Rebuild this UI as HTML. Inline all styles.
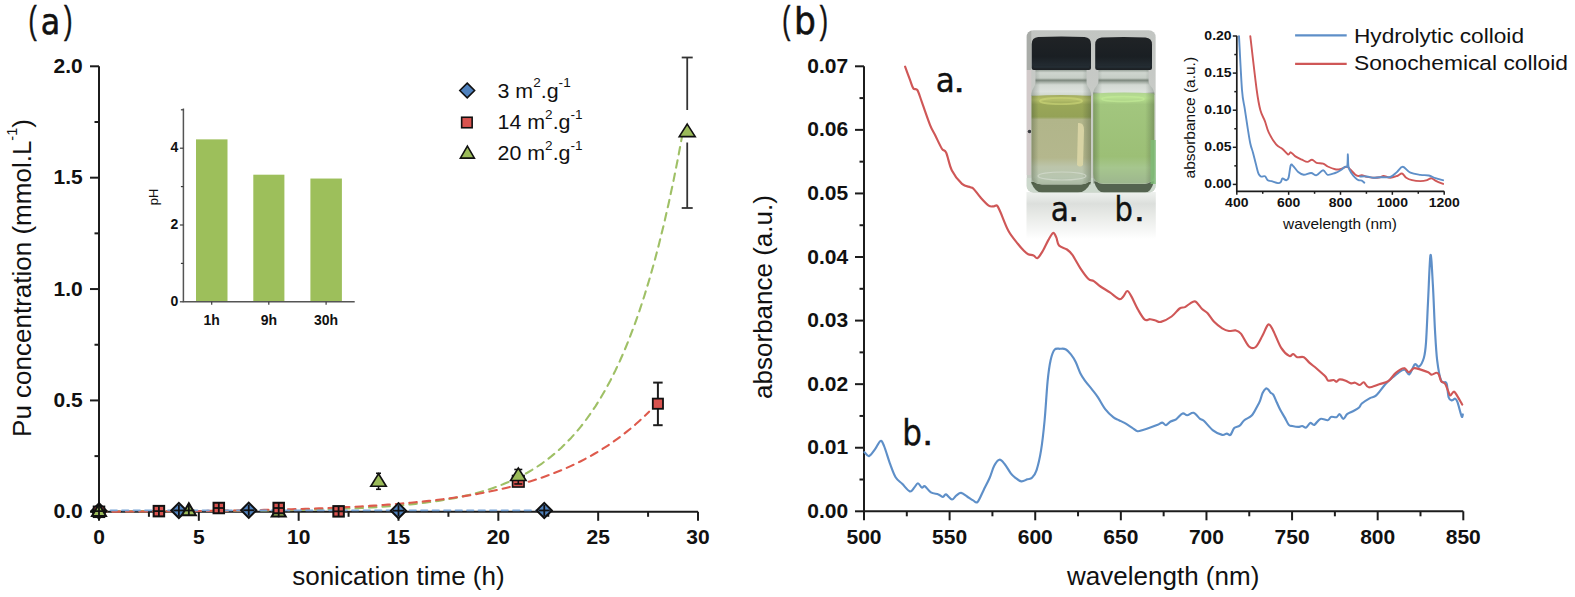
<!DOCTYPE html>
<html><head><meta charset="utf-8"><title>Figure</title>
<style>html,body{margin:0;padding:0;background:#fff;}svg{display:block;}</style>
</head><body>
<svg width="1575" height="597" viewBox="0 0 1575 597" font-family="'Liberation Sans', Arial, Helvetica, sans-serif">
<rect width="1575" height="597" fill="#ffffff"/>
<text transform="translate(28.42,33.4) scale(0.623,1)" font-size="39.5" fill="#111" stroke="#111" stroke-width="0.6">(</text>
<text transform="translate(40.8,34.2) scale(0.894,1)" font-size="35.5" font-family="'DejaVu Sans', sans-serif" fill="#111" stroke="#111" stroke-width="0.6">a</text>
<text transform="translate(64.05,33.4) scale(0.643,1)" font-size="39.5" fill="#111" stroke="#111" stroke-width="0.6">)</text>
<text transform="translate(782.25,33.4) scale(0.613,1)" font-size="39.5" fill="#111" stroke="#111" stroke-width="0.6">(</text>
<text transform="translate(794.1,34.4) scale(0.908,1)" font-size="38" font-family="'DejaVu Sans', sans-serif" fill="#111" stroke="#111" stroke-width="0.6">b</text>
<text transform="translate(819.75,33.4) scale(0.623,1)" font-size="39.5" fill="#111" stroke="#111" stroke-width="0.6">)</text>
<path d="M99.0,66.3 V511.8 H698.0" fill="none" stroke="#1c1c1c" stroke-width="2"/>
<line x1="90" y1="511.8" x2="99" y2="511.8" stroke="#1c1c1c" stroke-width="2" />
<text x="82.7" y="518.4" font-size="21" text-anchor="end" font-weight="bold" fill="#111" >0.0</text>
<line x1="90" y1="400.43" x2="99" y2="400.43" stroke="#1c1c1c" stroke-width="2" />
<text x="82.7" y="407.03" font-size="21" text-anchor="end" font-weight="bold" fill="#111" >0.5</text>
<line x1="90" y1="289.05" x2="99" y2="289.05" stroke="#1c1c1c" stroke-width="2" />
<text x="82.7" y="295.65" font-size="21" text-anchor="end" font-weight="bold" fill="#111" >1.0</text>
<line x1="90" y1="177.68" x2="99" y2="177.68" stroke="#1c1c1c" stroke-width="2" />
<text x="82.7" y="184.28" font-size="21" text-anchor="end" font-weight="bold" fill="#111" >1.5</text>
<line x1="90" y1="66.3" x2="99" y2="66.3" stroke="#1c1c1c" stroke-width="2" />
<text x="82.7" y="72.9" font-size="21" text-anchor="end" font-weight="bold" fill="#111" >2.0</text>
<line x1="94.5" y1="456.11" x2="99" y2="456.11" stroke="#1c1c1c" stroke-width="2" />
<line x1="94.5" y1="344.74" x2="99" y2="344.74" stroke="#1c1c1c" stroke-width="2" />
<line x1="94.5" y1="233.36" x2="99" y2="233.36" stroke="#1c1c1c" stroke-width="2" />
<line x1="94.5" y1="121.99" x2="99" y2="121.99" stroke="#1c1c1c" stroke-width="2" />
<line x1="99" y1="511.8" x2="99" y2="520.8" stroke="#1c1c1c" stroke-width="2" />
<text x="99" y="544" font-size="21" text-anchor="middle" font-weight="bold" fill="#111" >0</text>
<line x1="198.83" y1="511.8" x2="198.83" y2="520.8" stroke="#1c1c1c" stroke-width="2" />
<text x="198.83" y="544" font-size="21" text-anchor="middle" font-weight="bold" fill="#111" >5</text>
<line x1="298.67" y1="511.8" x2="298.67" y2="520.8" stroke="#1c1c1c" stroke-width="2" />
<text x="298.67" y="544" font-size="21" text-anchor="middle" font-weight="bold" fill="#111" >10</text>
<line x1="398.5" y1="511.8" x2="398.5" y2="520.8" stroke="#1c1c1c" stroke-width="2" />
<text x="398.5" y="544" font-size="21" text-anchor="middle" font-weight="bold" fill="#111" >15</text>
<line x1="498.33" y1="511.8" x2="498.33" y2="520.8" stroke="#1c1c1c" stroke-width="2" />
<text x="498.33" y="544" font-size="21" text-anchor="middle" font-weight="bold" fill="#111" >20</text>
<line x1="598.17" y1="511.8" x2="598.17" y2="520.8" stroke="#1c1c1c" stroke-width="2" />
<text x="598.17" y="544" font-size="21" text-anchor="middle" font-weight="bold" fill="#111" >25</text>
<line x1="698" y1="511.8" x2="698" y2="520.8" stroke="#1c1c1c" stroke-width="2" />
<text x="698" y="544" font-size="21" text-anchor="middle" font-weight="bold" fill="#111" >30</text>
<line x1="148.92" y1="511.8" x2="148.92" y2="516.8" stroke="#1c1c1c" stroke-width="2" />
<line x1="248.75" y1="511.8" x2="248.75" y2="516.8" stroke="#1c1c1c" stroke-width="2" />
<line x1="348.58" y1="511.8" x2="348.58" y2="516.8" stroke="#1c1c1c" stroke-width="2" />
<line x1="448.42" y1="511.8" x2="448.42" y2="516.8" stroke="#1c1c1c" stroke-width="2" />
<line x1="548.25" y1="511.8" x2="548.25" y2="516.8" stroke="#1c1c1c" stroke-width="2" />
<line x1="648.08" y1="511.8" x2="648.08" y2="516.8" stroke="#1c1c1c" stroke-width="2" />
<polyline points="99,511.23 103.87,511.22 108.73,511.22 113.6,511.21 118.47,511.21 123.33,511.2 128.2,511.19 133.07,511.18 137.94,511.17 142.8,511.16 147.67,511.15 152.54,511.14 157.4,511.13 162.27,511.12 167.14,511.11 172,511.09 176.87,511.08 181.74,511.06 186.6,511.04 191.47,511.02 196.34,511 201.2,510.98 206.07,510.96 210.94,510.93 215.81,510.9 220.67,510.87 225.54,510.84 230.41,510.81 235.27,510.77 240.14,510.73 245.01,510.69 249.87,510.65 254.74,510.6 259.61,510.55 264.47,510.49 269.34,510.43 274.21,510.36 279.07,510.3 283.94,510.22 288.81,510.14 293.68,510.05 298.54,509.96 303.41,509.86 308.28,509.76 313.14,509.64 318.01,509.52 322.88,509.39 327.74,509.25 332.61,509.09 337.48,508.93 342.34,508.75 347.21,508.56 352.08,508.36 356.94,508.14 361.81,507.91 366.68,507.66 371.55,507.39 376.41,507.1 381.28,506.79 386.15,506.45 391.01,506.09 395.88,505.71 400.75,505.29 405.61,504.85 410.48,504.37 415.35,503.86 420.21,503.3 425.08,502.71 429.95,502.07 434.81,501.39 439.68,500.66 444.55,499.87 449.42,499.02 454.28,498.11 459.15,497.13 464.02,496.08 468.88,494.95 473.75,493.74 478.62,492.44 483.48,491.04 488.35,489.54 493.22,487.92 498.08,486.19 502.95,484.33 507.82,482.33 512.68,480.18 517.55,477.88 522.42,475.4 527.28,472.74 532.15,469.88 537.02,466.81 541.89,463.51 546.75,459.97 551.62,456.16 556.49,452.07 561.35,447.68 566.22,442.97 571.09,437.9 575.95,432.46 580.82,426.61 585.69,420.33 590.55,413.59 595.42,406.35 600.29,398.57 605.15,390.21 610.02,381.23 614.89,371.59 619.76,361.23 624.62,350.1 629.49,338.15 634.36,325.32 639.22,311.53 644.09,296.72 648.96,280.81 653.82,263.73 658.69,245.37 663.56,225.66 668.42,204.48 673.29,181.73 678.16,157.3 683.02,131.06" fill="none" stroke="#9fc066" stroke-width="2.1" stroke-linejoin="round" stroke-linecap="round" stroke-dasharray="7.5,6" stroke-linecap="butt"/>
<polyline points="99,511.68 103.58,511.66 108.17,511.64 112.75,511.62 117.34,511.59 121.92,511.57 126.5,511.55 131.09,511.52 135.67,511.49 140.26,511.47 144.84,511.44 149.42,511.4 154.01,511.37 158.59,511.34 163.18,511.3 167.76,511.27 172.34,511.23 176.93,511.19 181.51,511.14 186.1,511.1 190.68,511.05 195.26,511 199.85,510.95 204.43,510.9 209.02,510.84 213.6,510.78 218.18,510.72 222.77,510.66 227.35,510.59 231.94,510.52 236.52,510.45 241.1,510.37 245.69,510.29 250.27,510.2 254.86,510.11 259.44,510.02 264.02,509.92 268.61,509.82 273.19,509.72 277.78,509.61 282.36,509.49 286.94,509.37 291.53,509.24 296.11,509.11 300.7,508.97 305.28,508.82 309.86,508.67 314.45,508.51 319.03,508.34 323.62,508.16 328.2,507.98 332.78,507.79 337.37,507.59 341.95,507.38 346.54,507.16 351.12,506.92 355.7,506.68 360.29,506.43 364.87,506.17 369.46,505.89 374.04,505.6 378.62,505.3 383.21,504.98 387.79,504.65 392.38,504.3 396.96,503.93 401.54,503.55 406.13,503.15 410.71,502.74 415.3,502.3 419.88,501.84 424.46,501.36 429.05,500.86 433.63,500.34 438.22,499.79 442.8,499.21 447.39,498.61 451.97,497.98 456.55,497.32 461.14,496.63 465.72,495.91 470.31,495.16 474.89,494.36 479.47,493.54 484.06,492.67 488.64,491.76 493.23,490.81 497.81,489.82 502.39,488.78 506.98,487.69 511.56,486.55 516.15,485.36 520.73,484.11 525.31,482.81 529.9,481.44 534.48,480.01 539.07,478.51 543.65,476.94 548.23,475.3 552.82,473.58 557.4,471.79 561.99,469.9 566.57,467.94 571.15,465.87 575.74,463.72 580.32,461.46 584.91,459.09 589.49,456.62 594.07,454.03 598.66,451.32 603.24,448.48 607.83,445.51 612.41,442.41 616.99,439.15 621.58,435.75 626.16,432.18 630.75,428.45 635.33,424.55 639.91,420.46 644.5,416.19 649.08,411.71" fill="none" stroke="#de5a4c" stroke-width="2.1" stroke-linejoin="round" stroke-linecap="round" stroke-dasharray="7.5,6" stroke-linecap="butt"/>
<polyline points="99,510.3 544.26,510.3" fill="none" stroke="#78a4d6" stroke-width="1.8" stroke-linejoin="round" stroke-linecap="round" stroke-dasharray="6.5,5" stroke-linecap="butt"/>
<text x="398.4" y="584.5" font-size="26" text-anchor="middle" font-weight="normal" fill="#111" >sonication time (h)</text>
<text transform="translate(31.3,278) rotate(-90)" font-size="26" text-anchor="middle" fill="#111">Pu concentration (mmol.L<tspan dy="-14" font-size="14.5">-1</tspan><tspan dy="14">)</tspan></text>
<rect x="196" y="139.37" width="31.5" height="162.43" fill="#9dbf5b"/>
<rect x="253.3" y="174.7" width="31.1" height="127.1" fill="#9dbf5b"/>
<rect x="310.4" y="178.54" width="31.5" height="123.26" fill="#9dbf5b"/>
<path d="M183.4,108.5 V301.8 H354.7" fill="none" stroke="#555" stroke-width="1.5"/>
<line x1="179.9" y1="301.8" x2="183.4" y2="301.8" stroke="#3c3c3c" stroke-width="1.2" />
<line x1="180.9" y1="263.4" x2="183.4" y2="263.4" stroke="#3c3c3c" stroke-width="1.2" />
<line x1="179.9" y1="225" x2="183.4" y2="225" stroke="#3c3c3c" stroke-width="1.2" />
<line x1="180.9" y1="186.6" x2="183.4" y2="186.6" stroke="#3c3c3c" stroke-width="1.2" />
<line x1="179.9" y1="148.2" x2="183.4" y2="148.2" stroke="#3c3c3c" stroke-width="1.2" />
<line x1="180.9" y1="109.8" x2="183.4" y2="109.8" stroke="#3c3c3c" stroke-width="1.2" />
<text x="178.4" y="306" font-size="14" text-anchor="end" font-weight="bold" fill="#111" >0</text>
<text x="178.4" y="229.2" font-size="14" text-anchor="end" font-weight="bold" fill="#111" >2</text>
<text x="178.4" y="152.4" font-size="14" text-anchor="end" font-weight="bold" fill="#111" >4</text>
<line x1="211.7" y1="301.8" x2="211.7" y2="304.8" stroke="#3c3c3c" stroke-width="1.2" />
<line x1="268.8" y1="301.8" x2="268.8" y2="304.8" stroke="#3c3c3c" stroke-width="1.2" />
<line x1="326.1" y1="301.8" x2="326.1" y2="304.8" stroke="#3c3c3c" stroke-width="1.2" />
<text x="211.7" y="325.1" font-size="14" text-anchor="middle" font-weight="bold" fill="#111" >1h</text>
<text x="268.8" y="325.1" font-size="14" text-anchor="middle" font-weight="bold" fill="#111" >9h</text>
<text x="326.1" y="325.1" font-size="14" text-anchor="middle" font-weight="bold" fill="#111" >30h</text>
<text transform="translate(157.5,197) rotate(-90)" font-size="13" text-anchor="middle" fill="#111">pH</text>
<path d="M467.2,83.1 L474.6,90.5 L467.2,97.9 L459.8,90.5 Z" fill="#4f81bd" stroke="#111" stroke-width="1.6" stroke-linejoin="miter"/>
<rect x="461.65" y="117.25" width="10.5" height="10.5" fill="#d9534f" stroke="#111" stroke-width="1.6"/>
<path d="M467.4,146.1 L474.4,158.1 L460.4,158.1 Z" fill="#9bbb59" stroke="#111" stroke-width="1.6" stroke-linejoin="miter"/>
<text transform="translate(497.5,97.6) scale(1.045,1)" font-size="20.5" fill="#111">3 m<tspan dy="-10.5" font-size="13">2</tspan><tspan dy="10.5">.g</tspan><tspan dy="-10.5" font-size="13">-1</tspan></text>
<text transform="translate(497.5,129.2) scale(1.045,1)" font-size="20.5" fill="#111">14 m<tspan dy="-10.5" font-size="13">2</tspan><tspan dy="10.5">.g</tspan><tspan dy="-10.5" font-size="13">-1</tspan></text>
<text transform="translate(497.5,160.4) scale(1.045,1)" font-size="20.5" fill="#111">20 m<tspan dy="-10.5" font-size="13">2</tspan><tspan dy="10.5">.g</tspan><tspan dy="-10.5" font-size="13">-1</tspan></text>
<path d="M99,503.31 L106.6,510.91 L99,518.51 L91.4,510.91 Z" fill="#4f81bd" stroke="#111" stroke-width="2.0" stroke-linejoin="miter"/>
<line x1="93.5" y1="510.91" x2="104.5" y2="510.91" stroke="#111" stroke-width="1.8" />
<line x1="99" y1="505.41" x2="99" y2="516.41" stroke="#111" stroke-width="1.8" />
<rect x="93.75" y="506.55" width="10.5" height="10.5" fill="#d9534f" stroke="#111" stroke-width="2.0"/>
<line x1="93.5" y1="511.8" x2="104.5" y2="511.8" stroke="#111" stroke-width="1.8" />
<line x1="99" y1="506.3" x2="99" y2="517.3" stroke="#111" stroke-width="1.8" />
<path d="M99,503.93 L106,515.93 L92,515.93 Z" fill="#9bbb59" stroke="#111" stroke-width="2.0" stroke-linejoin="miter"/>
<line x1="93.5" y1="511.13" x2="104.5" y2="511.13" stroke="#111" stroke-width="1.8" />
<line x1="99" y1="505.63" x2="99" y2="516.63" stroke="#111" stroke-width="1.8" />
<rect x="153.65" y="505.88" width="10.5" height="10.5" fill="#d9534f" stroke="#111" stroke-width="2.0"/>
<line x1="153.4" y1="511.13" x2="164.4" y2="511.13" stroke="#111" stroke-width="1.8" />
<line x1="158.9" y1="505.63" x2="158.9" y2="516.63" stroke="#111" stroke-width="1.8" />
<path d="M178.87,502.86 L186.47,510.46 L178.87,518.06 L171.27,510.46 Z" fill="#4f81bd" stroke="#111" stroke-width="2.0" stroke-linejoin="miter"/>
<line x1="173.37" y1="510.46" x2="184.37" y2="510.46" stroke="#111" stroke-width="1.8" />
<line x1="178.87" y1="504.96" x2="178.87" y2="515.96" stroke="#111" stroke-width="1.8" />
<path d="M188.85,503.26 L195.85,515.26 L181.85,515.26 Z" fill="#9bbb59" stroke="#111" stroke-width="2.0" stroke-linejoin="miter"/>
<line x1="183.35" y1="510.46" x2="194.35" y2="510.46" stroke="#111" stroke-width="1.8" />
<line x1="188.85" y1="504.96" x2="188.85" y2="515.96" stroke="#111" stroke-width="1.8" />
<rect x="213.55" y="502.76" width="10.5" height="10.5" fill="#d9534f" stroke="#111" stroke-width="2.0"/>
<line x1="213.3" y1="508.01" x2="224.3" y2="508.01" stroke="#111" stroke-width="1.8" />
<line x1="218.8" y1="502.51" x2="218.8" y2="513.51" stroke="#111" stroke-width="1.8" />
<path d="M248.75,502.64 L256.35,510.24 L248.75,517.84 L241.15,510.24 Z" fill="#4f81bd" stroke="#111" stroke-width="2.0" stroke-linejoin="miter"/>
<line x1="243.25" y1="510.24" x2="254.25" y2="510.24" stroke="#111" stroke-width="1.8" />
<line x1="248.75" y1="504.74" x2="248.75" y2="515.74" stroke="#111" stroke-width="1.8" />
<path d="M278.7,504.6 L285.7,516.6 L271.7,516.6 Z" fill="#9bbb59" stroke="#111" stroke-width="2.0" stroke-linejoin="miter"/>
<line x1="273.2" y1="511.8" x2="284.2" y2="511.8" stroke="#111" stroke-width="1.8" />
<line x1="278.7" y1="506.3" x2="278.7" y2="517.3" stroke="#111" stroke-width="1.8" />
<rect x="273.45" y="502.76" width="10.5" height="10.5" fill="#d9534f" stroke="#111" stroke-width="2.0"/>
<line x1="273.2" y1="508.01" x2="284.2" y2="508.01" stroke="#111" stroke-width="1.8" />
<line x1="278.7" y1="502.51" x2="278.7" y2="513.51" stroke="#111" stroke-width="1.8" />
<rect x="333.35" y="506.1" width="10.5" height="10.5" fill="#d9534f" stroke="#111" stroke-width="2.0"/>
<line x1="333.1" y1="511.35" x2="344.1" y2="511.35" stroke="#111" stroke-width="1.8" />
<line x1="338.6" y1="505.85" x2="338.6" y2="516.85" stroke="#111" stroke-width="1.8" />
<path d="M398.5,503.09 L406.1,510.69 L398.5,518.29 L390.9,510.69 Z" fill="#4f81bd" stroke="#111" stroke-width="2.0" stroke-linejoin="miter"/>
<line x1="393" y1="510.69" x2="404" y2="510.69" stroke="#111" stroke-width="1.8" />
<line x1="398.5" y1="505.19" x2="398.5" y2="516.19" stroke="#111" stroke-width="1.8" />
<path d="M544.26,502.86 L551.86,510.46 L544.26,518.06 L536.66,510.46 Z" fill="#4f81bd" stroke="#111" stroke-width="2.0" stroke-linejoin="miter"/>
<line x1="538.76" y1="510.46" x2="549.76" y2="510.46" stroke="#111" stroke-width="1.8" />
<line x1="544.26" y1="504.96" x2="544.26" y2="515.96" stroke="#111" stroke-width="1.8" />
<line x1="378.53" y1="473.28" x2="378.53" y2="489.28" stroke="#111" stroke-width="1.6" />
<line x1="376.03" y1="473.28" x2="381.03" y2="473.28" stroke="#111" stroke-width="1.6" />
<line x1="376.03" y1="489.28" x2="381.03" y2="489.28" stroke="#111" stroke-width="1.6" />
<path d="M378.53,473.78 L386.28,486.28 L370.78,486.28 Z" fill="#9bbb59" stroke="#111" stroke-width="1.6" stroke-linejoin="miter"/>
<rect x="512.55" y="475.53" width="11.5" height="11.5" fill="#d9534f" stroke="#111" stroke-width="1.6"/>
<line x1="518.3" y1="469.48" x2="518.3" y2="483.96" stroke="#111" stroke-width="1.6" />
<line x1="514.3" y1="469.48" x2="522.3" y2="469.48" stroke="#111" stroke-width="1.6" />
<line x1="514.3" y1="483.96" x2="522.3" y2="483.96" stroke="#111" stroke-width="1.6" />
<path d="M518.3,467.99 L526.05,480.49 L510.55,480.49 Z" fill="#9bbb59" stroke="#111" stroke-width="1.6" stroke-linejoin="miter"/>
<line x1="657.9" y1="382.6" x2="657.9" y2="425.2" stroke="#1e1e1e" stroke-width="2.0" />
<line x1="653.15" y1="382.6" x2="662.65" y2="382.6" stroke="#1e1e1e" stroke-width="2.0" />
<line x1="653.15" y1="425.2" x2="662.65" y2="425.2" stroke="#1e1e1e" stroke-width="2.0" />
<rect x="652.8" y="398.6" width="10.2" height="10.2" fill="#d9534f" stroke="#111" stroke-width="1.8"/>
<line x1="687.22" y1="57.5" x2="687.22" y2="110" stroke="#333" stroke-width="1.8"/>
<line x1="687.22" y1="142.5" x2="687.22" y2="208" stroke="#333" stroke-width="1.8"/>
<line x1="681.72" y1="57.5" x2="692.72" y2="57.5" stroke="#333" stroke-width="1.8" />
<line x1="681.72" y1="208" x2="692.72" y2="208" stroke="#333" stroke-width="1.8" />
<path d="M687.22,124.1 L695.22,136.6 L679.22,136.6 Z" fill="#9bbb59" stroke="#111" stroke-width="1.6" stroke-linejoin="miter"/>
<defs>
<clipPath id="phc"><rect x="1026.5" y="30.2" width="129.3" height="162.3" rx="7" ry="7"/></clipPath>
<linearGradient id="bg" x1="0" y1="0" x2="0" y2="1">
 <stop offset="0" stop-color="#c2c5c2"/><stop offset="0.4" stop-color="#c8cbc7"/><stop offset="1" stop-color="#c6ccc3"/></linearGradient>
<linearGradient id="liqA" gradientUnits="userSpaceOnUse" x1="0" y1="95.5" x2="0" y2="184.5">
 <stop offset="0" stop-color="#a5ae60"/><stop offset="0.05" stop-color="#b6c06a"/><stop offset="0.1" stop-color="#9aa758"/><stop offset="0.24" stop-color="#94a256"/><stop offset="0.27" stop-color="#b1b58a"/>
 <stop offset="0.7" stop-color="#b4b78d"/><stop offset="0.8" stop-color="#bcc5aa"/><stop offset="0.92" stop-color="#b8c6b0"/><stop offset="1" stop-color="#aab8a2"/></linearGradient>
<linearGradient id="liqB" gradientUnits="userSpaceOnUse" x1="0" y1="92.5" x2="0" y2="184">
 <stop offset="0" stop-color="#b0d490"/><stop offset="0.06" stop-color="#b8e090"/><stop offset="0.13" stop-color="#a2c67e"/><stop offset="0.7" stop-color="#9cbf76"/><stop offset="0.82" stop-color="#a6c68e"/><stop offset="1" stop-color="#9db68e"/></linearGradient>
<linearGradient id="edgeH" x1="0" y1="0" x2="1" y2="0">
 <stop offset="0" stop-color="#3c4a30" stop-opacity="0.35"/><stop offset="0.12" stop-color="#3c4a30" stop-opacity="0"/><stop offset="0.85" stop-color="#3c4a30" stop-opacity="0"/><stop offset="1" stop-color="#3c4a30" stop-opacity="0.35"/></linearGradient>
<linearGradient id="neck" gradientUnits="userSpaceOnUse" x1="0" y1="70" x2="0" y2="97">
 <stop offset="0" stop-color="#9aa39b"/><stop offset="0.1" stop-color="#cfd5cf"/><stop offset="0.3" stop-color="#c6cdc6"/><stop offset="0.38" stop-color="#7d887e"/><stop offset="0.46" stop-color="#a9b2a9"/>
 <stop offset="0.55" stop-color="#d3d9d3"/><stop offset="0.8" stop-color="#dde2dd"/><stop offset="1" stop-color="#c9d2c4"/></linearGradient>
<linearGradient id="neckH" x1="0" y1="0" x2="1" y2="0">
 <stop offset="0" stop-color="#66706a" stop-opacity="0.45"/><stop offset="0.15" stop-color="#66706a" stop-opacity="0"/><stop offset="0.85" stop-color="#66706a" stop-opacity="0"/><stop offset="1" stop-color="#66706a" stop-opacity="0.45"/></linearGradient>
<linearGradient id="cap" x1="0" y1="0" x2="0" y2="1">
 <stop offset="0" stop-color="#202326"/><stop offset="0.6" stop-color="#1a1f23"/><stop offset="0.85" stop-color="#222a30"/><stop offset="1" stop-color="#1c2024"/></linearGradient>
<linearGradient id="refl" x1="0" y1="0" x2="0" y2="1">
 <stop offset="0" stop-color="#eef1ee"/><stop offset="0.12" stop-color="#e6e9e6"/><stop offset="0.25" stop-color="#dcdfdc"/><stop offset="0.5" stop-color="#e8eae7"/><stop offset="0.8" stop-color="#f5f6f5"/><stop offset="1" stop-color="#ffffff"/></linearGradient>
</defs>
<rect x="1026.5" y="192" width="129.3" height="47" fill="url(#refl)"/>
<g clip-path="url(#phc)">
<rect x="1026.5" y="30" width="129.3" height="163" fill="url(#bg)"/>
<rect x="1026.5" y="30" width="4.8" height="40" fill="#a9aca8"/>
<rect x="1026.5" y="70" width="4.8" height="105" fill="#d2caca"/>
<circle cx="1029.5" cy="131.5" r="1.8" fill="#3a3c40"/>
<rect x="1026.5" y="178" width="129.3" height="15" fill="#ccd8cc"/>
<path d="M1031,182 H1091 Q1086,192.6 1078,192.6 H1042 Q1035,192.6 1031,182 Z" fill="#56654f"/>
<path d="M1094,181.5 H1154 Q1151,192.6 1145,192.6 H1104 Q1097,192.6 1094,181.5 Z" fill="#546350"/>
<path d="M1035.5,70 H1086.5 V82 C1086.5,87 1091.3,88 1091.3,96 V176 Q1091.3,184 1081,184.5 H1042 Q1031.3,184 1031.3,176 V96 C1031.3,88 1035.5,87 1035.5,82 Z" fill="url(#neck)"/>
<path d="M1035.5,70 H1086.5 V82 C1086.5,87 1091.3,88 1091.3,96 H1031.3 C1031.3,88 1035.5,87 1035.5,82 Z" fill="url(#neckH)"/>
<path d="M1031.6,96 Q1061,94 1091,96 V176 Q1091,184 1081,184.3 H1042 Q1031.6,184 1031.6,176 Z" fill="url(#liqA)"/>
<rect x="1031.5" y="95.5" width="59.5" height="89" fill="url(#edgeH)"/>
<ellipse cx="1061" cy="101" rx="21" ry="3.2" fill="none" stroke="#cfd97a" stroke-width="1.8" opacity="0.6"/>
<path d="M1078,123 Q1084,122 1084,130 L1083,165 Q1080,168 1077,165 Z" fill="#dcd6a6" opacity="0.9"/>
<ellipse cx="1062" cy="176" rx="24" ry="4" fill="none" stroke="#d5ddd0" stroke-width="1.2" opacity="0.7"/>
<path d="M1031.7,44 Q1031.7,37.5 1038.2,37 Q1061.35,36 1084.5,37 Q1091,37.5 1091,44 V68 Q1091,70 1089,70 H1033.7 Q1031.7,70 1031.7,68 Z" fill="url(#cap)"/><path d="M1033.7,67 H1089" stroke="#2c3a44" stroke-width="1.2" opacity="0.6"/>
<path d="M1098.5,69 H1148.5 V81 C1148.5,86 1154.5,87 1154.5,95 V174 Q1154.5,183.5 1143,184 H1104 Q1093,183.5 1093,174 V95 C1093,87 1098.5,86 1098.5,81 Z" fill="url(#neck)"/>
<path d="M1098.5,69 H1148.5 V81 C1148.5,86 1154.5,87 1154.5,95 H1093 C1093,87 1098.5,86 1098.5,81 Z" fill="url(#neckH)"/>
<path d="M1093.2,93.5 Q1123.7,91.5 1154.3,93.5 V174 Q1154.3,183.3 1143,183.8 H1104 Q1093.2,183.3 1093.2,174 Z" fill="url(#liqB)"/>
<rect x="1093.2" y="92.5" width="61.1" height="91" fill="url(#edgeH)"/>
<ellipse cx="1123" cy="99" rx="21" ry="2.5" fill="none" stroke="#c4ec9a" stroke-width="1.6" opacity="0.6"/>
<rect x="1150.5" y="140" width="5.5" height="44" fill="#7fbf78" opacity="0.8"/>
<path d="M1095.2,44.5 Q1095.2,38 1101.7,37.5 Q1123.6,36.5 1145.5,37.5 Q1152,38 1152,44.5 V68 Q1152,70 1150,70 H1097.2 Q1095.2,70 1095.2,68 Z" fill="url(#cap)"/><path d="M1097.2,67 H1150" stroke="#2c3a44" stroke-width="1.2" opacity="0.6"/>
</g>
<text transform="translate(1050.81,220.6) scale(0.881,1)" font-size="33.8" font-family="'DejaVu Sans', sans-serif" fill="#111" stroke="#111" stroke-width="0.4">a</text>
<text transform="translate(1068.34,220.6) scale(1.083,1)" font-size="36" fill="#111" stroke="#111" stroke-width="0.5">.</text>
<text transform="translate(1114.39,220.6) scale(0.852,1)" font-size="34" font-family="'DejaVu Sans', sans-serif" fill="#111" stroke="#111" stroke-width="0.4">b</text>
<text transform="translate(1134.04,220.6) scale(1.083,1)" font-size="36" fill="#111" stroke="#111" stroke-width="0.5">.</text>
<path d="M864.0,66.3 V511.3 H1463.3" fill="none" stroke="#1c1c1c" stroke-width="2"/>
<line x1="855" y1="511.3" x2="864" y2="511.3" stroke="#1c1c1c" stroke-width="2" />
<text x="848.2" y="517.9" font-size="21" text-anchor="end" font-weight="bold" fill="#111" >0.00</text>
<line x1="855" y1="447.73" x2="864" y2="447.73" stroke="#1c1c1c" stroke-width="2" />
<text x="848.2" y="454.33" font-size="21" text-anchor="end" font-weight="bold" fill="#111" >0.01</text>
<line x1="855" y1="384.16" x2="864" y2="384.16" stroke="#1c1c1c" stroke-width="2" />
<text x="848.2" y="390.76" font-size="21" text-anchor="end" font-weight="bold" fill="#111" >0.02</text>
<line x1="855" y1="320.59" x2="864" y2="320.59" stroke="#1c1c1c" stroke-width="2" />
<text x="848.2" y="327.19" font-size="21" text-anchor="end" font-weight="bold" fill="#111" >0.03</text>
<line x1="855" y1="257.01" x2="864" y2="257.01" stroke="#1c1c1c" stroke-width="2" />
<text x="848.2" y="263.61" font-size="21" text-anchor="end" font-weight="bold" fill="#111" >0.04</text>
<line x1="855" y1="193.44" x2="864" y2="193.44" stroke="#1c1c1c" stroke-width="2" />
<text x="848.2" y="200.04" font-size="21" text-anchor="end" font-weight="bold" fill="#111" >0.05</text>
<line x1="855" y1="129.87" x2="864" y2="129.87" stroke="#1c1c1c" stroke-width="2" />
<text x="848.2" y="136.47" font-size="21" text-anchor="end" font-weight="bold" fill="#111" >0.06</text>
<line x1="855" y1="66.3" x2="864" y2="66.3" stroke="#1c1c1c" stroke-width="2" />
<text x="848.2" y="72.9" font-size="21" text-anchor="end" font-weight="bold" fill="#111" >0.07</text>
<line x1="859.5" y1="479.51" x2="864" y2="479.51" stroke="#1c1c1c" stroke-width="2" />
<line x1="859.5" y1="415.94" x2="864" y2="415.94" stroke="#1c1c1c" stroke-width="2" />
<line x1="859.5" y1="352.37" x2="864" y2="352.37" stroke="#1c1c1c" stroke-width="2" />
<line x1="859.5" y1="288.8" x2="864" y2="288.8" stroke="#1c1c1c" stroke-width="2" />
<line x1="859.5" y1="225.23" x2="864" y2="225.23" stroke="#1c1c1c" stroke-width="2" />
<line x1="859.5" y1="161.66" x2="864" y2="161.66" stroke="#1c1c1c" stroke-width="2" />
<line x1="859.5" y1="98.09" x2="864" y2="98.09" stroke="#1c1c1c" stroke-width="2" />
<line x1="864" y1="511.3" x2="864" y2="520.3" stroke="#1c1c1c" stroke-width="2" />
<text x="864" y="543.7" font-size="21" text-anchor="middle" font-weight="bold" fill="#111" >500</text>
<line x1="949.61" y1="511.3" x2="949.61" y2="520.3" stroke="#1c1c1c" stroke-width="2" />
<text x="949.61" y="543.7" font-size="21" text-anchor="middle" font-weight="bold" fill="#111" >550</text>
<line x1="1035.23" y1="511.3" x2="1035.23" y2="520.3" stroke="#1c1c1c" stroke-width="2" />
<text x="1035.23" y="543.7" font-size="21" text-anchor="middle" font-weight="bold" fill="#111" >600</text>
<line x1="1120.84" y1="511.3" x2="1120.84" y2="520.3" stroke="#1c1c1c" stroke-width="2" />
<text x="1120.84" y="543.7" font-size="21" text-anchor="middle" font-weight="bold" fill="#111" >650</text>
<line x1="1206.46" y1="511.3" x2="1206.46" y2="520.3" stroke="#1c1c1c" stroke-width="2" />
<text x="1206.46" y="543.7" font-size="21" text-anchor="middle" font-weight="bold" fill="#111" >700</text>
<line x1="1292.07" y1="511.3" x2="1292.07" y2="520.3" stroke="#1c1c1c" stroke-width="2" />
<text x="1292.07" y="543.7" font-size="21" text-anchor="middle" font-weight="bold" fill="#111" >750</text>
<line x1="1377.69" y1="511.3" x2="1377.69" y2="520.3" stroke="#1c1c1c" stroke-width="2" />
<text x="1377.69" y="543.7" font-size="21" text-anchor="middle" font-weight="bold" fill="#111" >800</text>
<line x1="1463.3" y1="511.3" x2="1463.3" y2="520.3" stroke="#1c1c1c" stroke-width="2" />
<text x="1463.3" y="543.7" font-size="21" text-anchor="middle" font-weight="bold" fill="#111" >850</text>
<line x1="906.81" y1="511.3" x2="906.81" y2="516.3" stroke="#1c1c1c" stroke-width="2" />
<line x1="992.42" y1="511.3" x2="992.42" y2="516.3" stroke="#1c1c1c" stroke-width="2" />
<line x1="1078.04" y1="511.3" x2="1078.04" y2="516.3" stroke="#1c1c1c" stroke-width="2" />
<line x1="1163.65" y1="511.3" x2="1163.65" y2="516.3" stroke="#1c1c1c" stroke-width="2" />
<line x1="1249.26" y1="511.3" x2="1249.26" y2="516.3" stroke="#1c1c1c" stroke-width="2" />
<line x1="1334.88" y1="511.3" x2="1334.88" y2="516.3" stroke="#1c1c1c" stroke-width="2" />
<line x1="1420.49" y1="511.3" x2="1420.49" y2="516.3" stroke="#1c1c1c" stroke-width="2" />
<text x="1163.2" y="584.5" font-size="26" text-anchor="middle" font-weight="normal" fill="#111" >wavelength (nm)</text>
<text transform="translate(771.6,297) rotate(-90)" font-size="26" text-anchor="middle" fill="#111">absorbance (a.u.)</text>
<path d="M864.5,452.2 C865.25,452.85 867.23,456.6 869,456.1 C870.77,455.6 873.18,451.72 875.1,449.2 C877.02,446.68 879,441.52 880.5,441 C882,440.48 882.48,442.23 884.1,446.1 C885.72,449.97 888.28,459.02 890.2,464.2 C892.12,469.38 893.6,473.93 895.6,477.2 C897.6,480.47 899.83,481.43 902.2,483.8 C904.57,486.17 907.78,490.78 909.8,491.4 C911.82,492.02 912.95,488.87 914.3,487.5 C915.65,486.13 916.65,483.2 917.9,483.2 C919.15,483.2 920.63,486.98 921.8,487.5 C922.97,488.02 923.38,485.5 924.9,486.3 C926.42,487.1 928.65,490.95 930.9,492.3 C933.15,493.65 936.38,493.65 938.4,494.4 C940.42,495.15 941.73,496.8 943,496.8 C944.27,496.8 944.5,493.95 946,494.4 C947.5,494.85 950.25,499.35 952,499.5 C953.75,499.65 954.98,496.4 956.5,495.3 C958.02,494.2 959.33,492.7 961.1,492.9 C962.87,493.1 965.1,495.25 967.1,496.5 C969.1,497.75 971.35,499.5 973.1,500.4 C974.85,501.3 975.83,503.65 977.6,501.9 C979.37,500.15 981.68,493.92 983.7,489.9 C985.72,485.88 987.95,481.83 989.7,477.8 C991.45,473.77 992.58,468.72 994.2,465.7 C995.82,462.68 997.63,459.95 999.4,459.7 C1001.17,459.45 1002.9,461.93 1004.8,464.2 C1006.7,466.47 1009.03,471.03 1010.8,473.3 C1012.57,475.57 1013.63,476.45 1015.4,477.8 C1017.17,479.15 1019.4,481.15 1021.4,481.4 C1023.4,481.65 1025.63,479.9 1027.4,479.3 C1029.17,478.7 1030.48,479.3 1032,477.8 C1033.52,476.3 1035,474.82 1036.5,470.3 C1038,465.78 1039.65,459 1041,450.7 C1042.35,442.4 1043.5,432.07 1044.6,420.5 C1045.7,408.93 1046.6,391.35 1047.6,381.3 C1048.6,371.25 1049.43,365.48 1050.6,360.2 C1051.77,354.92 1053.03,351.5 1054.6,349.6 C1056.17,347.7 1058.18,348.87 1060,348.8 C1061.82,348.73 1063.65,348.22 1065.5,349.2 C1067.35,350.18 1069.4,352.55 1071.1,354.7 C1072.8,356.85 1074.17,359.02 1075.7,362.1 C1077.23,365.18 1078.77,370.12 1080.3,373.2 C1081.83,376.28 1082.9,377.83 1084.9,380.6 C1086.9,383.37 1090.15,387.05 1092.3,389.8 C1094.45,392.55 1095.65,393.88 1097.8,397.1 C1099.95,400.32 1102.58,405.72 1105.2,409.1 C1107.82,412.48 1111.2,415.55 1113.5,417.4 C1115.8,419.25 1117.17,419.28 1119,420.2 C1120.83,421.12 1122.35,421.67 1124.5,422.9 C1126.65,424.13 1129.75,426.22 1131.9,427.6 C1134.05,428.98 1135.57,430.8 1137.4,431.2 C1139.23,431.6 1140.75,430.6 1142.9,430 C1145.05,429.4 1147.83,428.47 1150.3,427.6 C1152.77,426.73 1155.7,425.63 1157.7,424.8 C1159.7,423.97 1160.92,422.53 1162.3,422.6 C1163.68,422.67 1164.62,425.38 1166,425.2 C1167.38,425.02 1168.92,422.48 1170.6,421.5 C1172.28,420.52 1174.1,420.65 1176.1,419.3 C1178.1,417.95 1180.75,414.08 1182.6,413.4 C1184.45,412.72 1185.37,415.3 1187.2,415.2 C1189.03,415.1 1191.45,412.18 1193.6,412.8 C1195.75,413.42 1198.4,417.58 1200.1,418.9 C1201.8,420.22 1201.65,418.8 1203.8,420.7 C1205.95,422.6 1209.93,427.93 1213,430.3 C1216.07,432.67 1219.9,434.35 1222.2,434.9 C1224.5,435.45 1225.42,433.6 1226.8,433.6 C1228.18,433.6 1229.27,435.82 1230.5,434.9 C1231.73,433.98 1232.67,429.63 1234.2,428.1 C1235.73,426.57 1238.02,427.02 1239.7,425.7 C1241.38,424.38 1242.3,421.88 1244.3,420.2 C1246.3,418.52 1249.55,417.9 1251.7,415.6 C1253.85,413.3 1255.82,408.87 1257.2,406.4 C1258.58,403.93 1259.08,403.07 1260,400.8 C1260.92,398.53 1261.7,394.85 1262.7,392.8 C1263.7,390.75 1265,388.95 1266,388.5 C1267,388.05 1267.92,389.38 1268.7,390.1 C1269.48,390.82 1269.92,392.02 1270.7,392.8 C1271.48,393.58 1272.4,393.23 1273.4,394.8 C1274.4,396.37 1275.58,399.75 1276.7,402.2 C1277.82,404.65 1278.75,406.93 1280.1,409.5 C1281.45,412.07 1283.35,415.03 1284.8,417.6 C1286.25,420.17 1287.57,423.5 1288.8,424.9 C1290.03,426.3 1290.63,425.67 1292.2,426 C1293.77,426.33 1296.53,426.9 1298.2,426.9 C1299.87,426.9 1300.87,425.88 1302.2,426 C1303.53,426.12 1304.87,428.12 1306.2,427.6 C1307.53,427.08 1308.85,423.35 1310.2,422.9 C1311.55,422.45 1312.62,425.57 1314.3,424.9 C1315.98,424.23 1318.07,419.68 1320.3,418.9 C1322.53,418.12 1325.92,420.53 1327.7,420.2 C1329.48,419.87 1329.55,417.4 1331,416.9 C1332.45,416.4 1334.95,417.65 1336.4,417.2 C1337.85,416.75 1338.55,413.92 1339.7,414.2 C1340.85,414.48 1342.07,418.9 1343.3,418.9 C1344.53,418.9 1345.58,415.43 1347.1,414.2 C1348.62,412.97 1350.4,412.62 1352.4,411.5 C1354.4,410.38 1357.53,408.83 1359.1,407.5 C1360.67,406.17 1359.98,405.07 1361.8,403.5 C1363.62,401.93 1367.6,399.45 1370,398.1 C1372.4,396.75 1373.65,397.72 1376.2,395.4 C1378.75,393.08 1382.53,387.22 1385.3,384.2 C1388.07,381.18 1390.3,379.45 1392.8,377.3 C1395.3,375.15 1398.28,372.55 1400.3,371.3 C1402.32,370.05 1403.38,369.3 1404.9,369.8 C1406.42,370.3 1407.75,375.22 1409.4,374.3 C1411.05,373.38 1413.2,365.57 1414.8,364.3 C1416.4,363.03 1417.48,367.8 1419,366.7 C1420.52,365.6 1422.73,361.72 1423.9,357.7 C1425.07,353.68 1425.3,352.17 1426,342.6 C1426.7,333.03 1427.35,314.88 1428.1,300.3 C1428.85,285.72 1429.7,257.6 1430.5,255.1 C1431.3,252.6 1432.15,272.73 1432.9,285.3 C1433.65,297.87 1434.28,317.93 1435,330.5 C1435.72,343.07 1436.18,352.37 1437.2,360.7 C1438.22,369.03 1439.67,376.9 1441.1,380.5 C1442.53,384.1 1444.82,381.52 1445.8,382.3 C1446.78,383.08 1446.52,382.67 1447,385.2 C1447.48,387.73 1447.93,394.97 1448.7,397.5 C1449.47,400.03 1450.52,400.2 1451.6,400.4 C1452.68,400.6 1454.22,398.4 1455.2,398.7 C1456.18,399 1456.43,399.27 1457.5,402.2 C1458.57,405.13 1460.72,414.25 1461.6,416.3 C1462.48,418.35 1462.6,414.8 1462.8,414.5" fill="none" stroke="#5e8fc8" stroke-width="2.15" stroke-linejoin="round" stroke-linecap="round" />
<path d="M905.1,66.7 C905.93,68.93 908.72,76.47 910.1,80.1 C911.48,83.73 912.18,86.83 913.4,88.5 C914.62,90.17 916,87.87 917.4,90.1 C918.8,92.33 919.67,96.03 921.8,101.9 C923.93,107.77 927.97,119.73 930.2,125.3 C932.43,130.87 933.25,131.4 935.2,135.3 C937.15,139.2 940.07,145.8 941.9,148.7 C943.73,151.6 944.53,149.07 946.2,152.7 C947.87,156.33 949.27,165.3 951.9,170.5 C954.53,175.7 958.93,181.12 962,183.9 C965.07,186.68 968.35,186.37 970.3,187.2 C972.25,188.03 972.02,187.22 973.7,188.9 C975.38,190.58 977.9,194.52 980.4,197.3 C982.9,200.08 986.47,204.1 988.7,205.6 C990.93,207.1 992.4,206.3 993.8,206.3 C995.2,206.3 995.98,204.6 997.1,205.6 C998.22,206.6 998.6,208.07 1000.5,212.3 C1002.4,216.53 1005.58,225.72 1008.5,231 C1011.42,236.28 1015.43,240.7 1018,244 C1020.57,247.3 1022.2,249.08 1023.9,250.8 C1025.6,252.52 1026.6,253.53 1028.2,254.3 C1029.8,255.07 1031.95,254.77 1033.5,255.4 C1035.05,256.03 1035.93,258.87 1037.5,258.1 C1039.07,257.33 1041.1,253.8 1042.9,250.8 C1044.7,247.8 1046.6,243.08 1048.3,240.1 C1050,237.12 1051.77,233.35 1053.1,232.9 C1054.43,232.45 1055.32,235.3 1056.3,237.4 C1057.28,239.5 1057.22,243.48 1059,245.5 C1060.78,247.52 1064.77,247.93 1067,249.5 C1069.23,251.07 1070.17,251.77 1072.4,254.9 C1074.63,258.03 1077.72,264.28 1080.4,268.3 C1083.08,272.32 1086.27,276.87 1088.5,279 C1090.73,281.13 1091.8,279.85 1093.8,281.1 C1095.8,282.35 1097.82,284.62 1100.5,286.5 C1103.18,288.38 1106.77,290.3 1109.9,292.4 C1113.03,294.5 1117.07,298.43 1119.3,299.1 C1121.53,299.77 1121.97,297.75 1123.3,296.4 C1124.63,295.05 1125.95,291 1127.3,291 C1128.65,291 1129.6,293.27 1131.4,296.4 C1133.2,299.53 1135.87,305.92 1138.1,309.8 C1140.33,313.68 1142.8,318.13 1144.8,319.7 C1146.8,321.27 1148.32,319.07 1150.1,319.2 C1151.88,319.33 1153.7,320.05 1155.5,320.5 C1157.3,320.95 1158.22,322.57 1160.9,321.9 C1163.58,321.23 1168.48,318.73 1171.6,316.5 C1174.72,314.27 1177.37,310.07 1179.6,308.5 C1181.83,306.93 1183.27,307.92 1185,307.1 C1186.73,306.28 1188.27,304.53 1190,303.6 C1191.73,302.67 1193.38,300.6 1195.4,301.5 C1197.42,302.4 1200.1,307.08 1202.1,309 C1204.1,310.92 1205.4,310.87 1207.4,313 C1209.4,315.13 1211.63,319.25 1214.1,321.8 C1216.57,324.35 1219.73,326.77 1222.2,328.3 C1224.67,329.83 1226.67,330.65 1228.9,331 C1231.13,331.35 1233.6,329.97 1235.6,330.4 C1237.6,330.83 1238.67,330.92 1240.9,333.6 C1243.13,336.28 1246.53,344.27 1249,346.5 C1251.47,348.73 1253.47,348.78 1255.7,347 C1257.93,345.22 1260.3,339.55 1262.4,335.8 C1264.5,332.05 1266.52,325.4 1268.3,324.5 C1270.08,323.6 1270.95,326.5 1273.1,330.4 C1275.25,334.3 1278.52,343.65 1281.2,347.9 C1283.88,352.15 1287.2,354.88 1289.2,355.9 C1291.2,356.92 1291.87,353.78 1293.2,354 C1294.53,354.22 1295.42,356.67 1297.2,357.2 C1298.98,357.73 1301.88,356.3 1303.9,357.2 C1305.92,358.1 1307.28,360.8 1309.3,362.6 C1311.32,364.4 1313.98,366.3 1316,368 C1318.02,369.7 1319.8,371.35 1321.4,372.8 C1323,374.25 1324.45,375.38 1325.6,376.7 C1326.75,378.02 1326.95,380.15 1328.3,380.7 C1329.65,381.25 1332.35,379.82 1333.7,380 C1335.05,380.18 1335.4,381.9 1336.4,381.8 C1337.4,381.7 1338.15,379.58 1339.7,379.4 C1341.25,379.22 1343.8,380.03 1345.7,380.7 C1347.6,381.37 1349.53,383.07 1351.1,383.4 C1352.67,383.73 1353.65,382.43 1355.1,382.7 C1356.55,382.97 1358.35,385.07 1359.8,385 C1361.25,384.93 1362.32,381.92 1363.8,382.3 C1365.28,382.68 1366.13,386.98 1368.7,387.3 C1371.27,387.62 1375.93,385.22 1379.2,384.2 C1382.47,383.18 1385.53,383.1 1388.3,381.2 C1391.07,379.3 1393.18,374.97 1395.8,372.8 C1398.42,370.63 1401.83,368.3 1404,368.2 C1406.17,368.1 1407.15,372.2 1408.8,372.2 C1410.45,372.2 1412.03,368.67 1413.9,368.2 C1415.77,367.73 1417.62,368.72 1420,369.4 C1422.38,370.08 1426.25,371.43 1428.2,372.3 C1430.15,373.17 1430.33,374.53 1431.7,374.6 C1433.07,374.67 1435.22,372.7 1436.4,372.7 C1437.58,372.7 1438.02,373.2 1438.8,374.6 C1439.58,376 1440.03,379.53 1441.1,381.1 C1442.17,382.67 1443.83,381.85 1445.2,384 C1446.57,386.15 1448.38,392.13 1449.3,394 C1450.22,395.87 1449.92,395.6 1450.7,395.2 C1451.48,394.8 1452.87,391.42 1454,391.6 C1455.13,391.78 1456.13,394.15 1457.5,396.3 C1458.87,398.45 1461.42,403.13 1462.2,404.5" fill="none" stroke="#cf5757" stroke-width="2.15" stroke-linejoin="round" stroke-linecap="round" />
<text transform="translate(935.63,92) scale(0.928,1)" font-size="33.5" font-family="'DejaVu Sans', sans-serif" fill="#111" stroke="#111" stroke-width="0.4">a</text>
<text transform="translate(953.79,92) scale(1.083,1)" font-size="36" fill="#111" stroke="#111" stroke-width="0.6">.</text>
<text transform="translate(902.21,445) scale(0.891,1)" font-size="34.8" font-family="'DejaVu Sans', sans-serif" fill="#111" stroke="#111" stroke-width="0.4">b</text>
<text transform="translate(922.47,445) scale(1.028,1)" font-size="36" fill="#111" stroke="#111" stroke-width="0.6">.</text>
<path d="M1236.8,35.8 V191.3 H1444.2" fill="none" stroke="#1c1c1c" stroke-width="1.7"/>
<line x1="1232.8" y1="184.4" x2="1236.8" y2="184.4" stroke="#1c1c1c" stroke-width="1.5" />
<text transform="translate(1231.6,188.3) scale(1.030,1)" font-size="13.6" text-anchor="end" font-weight="bold" fill="#111" >0.00</text>
<line x1="1232.8" y1="147.3" x2="1236.8" y2="147.3" stroke="#1c1c1c" stroke-width="1.5" />
<text transform="translate(1231.6,151.2) scale(1.030,1)" font-size="13.6" text-anchor="end" font-weight="bold" fill="#111" >0.05</text>
<line x1="1232.8" y1="110.2" x2="1236.8" y2="110.2" stroke="#1c1c1c" stroke-width="1.5" />
<text transform="translate(1231.6,114.1) scale(1.030,1)" font-size="13.6" text-anchor="end" font-weight="bold" fill="#111" >0.10</text>
<line x1="1232.8" y1="73.1" x2="1236.8" y2="73.1" stroke="#1c1c1c" stroke-width="1.5" />
<text transform="translate(1231.6,77) scale(1.030,1)" font-size="13.6" text-anchor="end" font-weight="bold" fill="#111" >0.15</text>
<line x1="1232.8" y1="36" x2="1236.8" y2="36" stroke="#1c1c1c" stroke-width="1.5" />
<text transform="translate(1231.6,39.9) scale(1.030,1)" font-size="13.6" text-anchor="end" font-weight="bold" fill="#111" >0.20</text>
<line x1="1234.3" y1="165.85" x2="1236.8" y2="165.85" stroke="#1c1c1c" stroke-width="1.5" />
<line x1="1234.3" y1="128.75" x2="1236.8" y2="128.75" stroke="#1c1c1c" stroke-width="1.5" />
<line x1="1234.3" y1="91.65" x2="1236.8" y2="91.65" stroke="#1c1c1c" stroke-width="1.5" />
<line x1="1234.3" y1="54.55" x2="1236.8" y2="54.55" stroke="#1c1c1c" stroke-width="1.5" />
<line x1="1236.8" y1="191.3" x2="1236.8" y2="194.8" stroke="#1c1c1c" stroke-width="1.5" />
<text transform="translate(1236.8,206.6) scale(1.030,1)" font-size="13.6" text-anchor="middle" font-weight="bold" fill="#111" >400</text>
<line x1="1288.65" y1="191.3" x2="1288.65" y2="194.8" stroke="#1c1c1c" stroke-width="1.5" />
<text transform="translate(1288.65,206.6) scale(1.030,1)" font-size="13.6" text-anchor="middle" font-weight="bold" fill="#111" >600</text>
<line x1="1340.5" y1="191.3" x2="1340.5" y2="194.8" stroke="#1c1c1c" stroke-width="1.5" />
<text transform="translate(1340.5,206.6) scale(1.030,1)" font-size="13.6" text-anchor="middle" font-weight="bold" fill="#111" >800</text>
<line x1="1392.35" y1="191.3" x2="1392.35" y2="194.8" stroke="#1c1c1c" stroke-width="1.5" />
<text transform="translate(1392.35,206.6) scale(1.030,1)" font-size="13.6" text-anchor="middle" font-weight="bold" fill="#111" >1000</text>
<line x1="1444.2" y1="191.3" x2="1444.2" y2="194.8" stroke="#1c1c1c" stroke-width="1.5" />
<text transform="translate(1444.2,206.6) scale(1.030,1)" font-size="13.6" text-anchor="middle" font-weight="bold" fill="#111" >1200</text>
<line x1="1262.72" y1="191.3" x2="1262.72" y2="193.8" stroke="#1c1c1c" stroke-width="1.5" />
<line x1="1314.58" y1="191.3" x2="1314.58" y2="193.8" stroke="#1c1c1c" stroke-width="1.5" />
<line x1="1366.42" y1="191.3" x2="1366.42" y2="193.8" stroke="#1c1c1c" stroke-width="1.5" />
<line x1="1418.27" y1="191.3" x2="1418.27" y2="193.8" stroke="#1c1c1c" stroke-width="1.5" />
<text x="1283" y="228.6" font-size="15" textLength="114" lengthAdjust="spacingAndGlyphs" fill="#111">wavelength (nm)</text>
<text transform="translate(1195.3,178.4) rotate(-90)" font-size="15" textLength="121.5" lengthAdjust="spacingAndGlyphs" fill="#111">absorbance (a.u.)</text>
<path d="M1250.3,36.1 C1251.37,45.08 1255.02,77.63 1256.7,90 C1258.38,102.37 1259.02,105.08 1260.4,110.3 C1261.78,115.52 1263.62,117.62 1265,121.3 C1266.38,124.98 1266.85,128.55 1268.7,132.4 C1270.55,136.25 1273.8,141.63 1276.1,144.4 C1278.4,147.17 1280.5,147.32 1282.5,149 C1284.5,150.68 1286.72,153.95 1288.1,154.5 C1289.48,155.05 1289.58,151.98 1290.8,152.3 C1292.02,152.62 1293.55,155.17 1295.4,156.4 C1297.25,157.63 1299.9,158.78 1301.9,159.7 C1303.9,160.62 1305.72,161.9 1307.4,161.9 C1309.08,161.9 1310.47,159.55 1312,159.7 C1313.53,159.85 1314.75,162.13 1316.6,162.8 C1318.45,163.47 1321.25,163.08 1323.1,163.7 C1324.95,164.32 1325.7,165.57 1327.7,166.5 C1329.7,167.43 1333.05,168.83 1335.1,169.3 C1337.15,169.77 1338.07,169.72 1340,169.3 C1341.93,168.88 1345.03,166.8 1346.7,166.8 C1348.37,166.8 1348.6,168.03 1350,169.3 C1351.4,170.57 1353.7,173.28 1355.1,174.4 C1356.5,175.52 1357.28,175.87 1358.4,176 C1359.52,176.13 1360.4,175.05 1361.8,175.2 C1363.2,175.35 1364.85,176.48 1366.8,176.9 C1368.75,177.32 1371.27,177.65 1373.5,177.7 C1375.73,177.75 1378.52,177.48 1380.2,177.2 C1381.88,176.92 1381.92,175.92 1383.6,176 C1385.28,176.08 1388.07,177.7 1390.3,177.7 C1392.53,177.7 1395.05,176.7 1397,176 C1398.95,175.3 1400.47,173.22 1402,173.5 C1403.53,173.78 1404.52,176.58 1406.2,177.7 C1407.88,178.82 1409.73,179.63 1412.1,180.2 C1414.47,180.77 1417.9,181.1 1420.4,181.1 C1422.9,181.1 1425.28,180.68 1427.1,180.2 C1428.92,179.72 1429.75,178.05 1431.3,178.2 C1432.85,178.35 1434.43,180.15 1436.4,181.1 C1438.37,182.05 1441.98,183.43 1443.1,183.9" fill="none" stroke="#cf5757" stroke-width="1.9" stroke-linejoin="round" stroke-linecap="round" />
<path d="M1239,36.1 C1239.5,45.08 1241.05,77.95 1242,90 C1242.95,102.05 1243.78,102.25 1244.7,108.4 C1245.62,114.55 1246.57,121.05 1247.5,126.9 C1248.43,132.75 1249.38,139.2 1250.3,143.5 C1251.22,147.8 1252.08,149.33 1253,152.7 C1253.92,156.07 1254.87,160.17 1255.8,163.7 C1256.73,167.23 1257.68,171.75 1258.6,173.9 C1259.52,176.05 1260.23,176.2 1261.3,176.6 C1262.37,177 1263.92,175.68 1265,176.3 C1266.08,176.92 1266.72,179.48 1267.8,180.3 C1268.88,181.12 1269.82,180.73 1271.5,181.2 C1273.18,181.67 1276.37,182.93 1277.9,183.1 C1279.43,183.27 1279.93,182.97 1280.7,182.2 C1281.47,181.43 1281.58,178.82 1282.5,178.5 C1283.42,178.18 1285.18,180.45 1286.2,180.3 C1287.22,180.15 1287.83,180.12 1288.6,177.6 C1289.37,175.08 1289.97,167.05 1290.8,165.2 C1291.63,163.35 1292.37,165.37 1293.6,166.5 C1294.83,167.63 1296.52,170.62 1298.2,172 C1299.88,173.38 1301.55,174.63 1303.7,174.8 C1305.85,174.97 1308.95,172.93 1311.1,173 C1313.25,173.07 1314.6,175.67 1316.6,175.2 C1318.6,174.73 1321.25,170.27 1323.1,170.2 C1324.95,170.13 1325.7,174.33 1327.7,174.8 C1329.7,175.27 1332.95,173.77 1335.1,173 C1337.25,172.23 1338.95,171.23 1340.6,170.2 C1342.25,169.17 1343.88,167.5 1345,166.8 C1346.12,166.1 1346.82,168.1 1347.3,166 C1347.78,163.9 1347.7,154.07 1347.9,154.2 C1348.1,154.33 1347.87,163.58 1348.5,166.8 C1349.13,170.02 1350.6,171.68 1351.7,173.5 C1352.8,175.32 1353.98,176.58 1355.1,177.7 C1356.22,178.82 1357.28,179.72 1358.4,180.2 C1359.52,180.68 1360.82,180.18 1361.8,180.6 C1362.78,181.02 1363.88,182.35 1364.3,182.7" fill="none" stroke="#5e8fc8" stroke-width="1.9" stroke-linejoin="round" stroke-linecap="round" />
<path d="M1360,176.5 C1361.13,176.5 1364.55,176.3 1366.8,176.5 C1369.05,176.7 1371.27,177.58 1373.5,177.7 C1375.73,177.82 1377.4,177.32 1380.2,177.2 C1383,177.08 1387.5,177.87 1390.3,177 C1393.1,176.13 1394.92,173.7 1397,172 C1399.08,170.3 1400.57,166.68 1402.8,166.8 C1405.03,166.92 1407.47,171.35 1410.4,172.7 C1413.33,174.05 1417.33,174.43 1420.4,174.9 C1423.47,175.37 1426.28,174.95 1428.8,175.5 C1431.32,176.05 1433.12,177.42 1435.5,178.2 C1437.88,178.98 1441.83,179.87 1443.1,180.2" fill="none" stroke="#5e8fc8" stroke-width="1.9" stroke-linejoin="round" stroke-linecap="round" />
<line x1="1295.1" y1="35.3" x2="1346.7" y2="35.3" stroke="#5e8fc8" stroke-width="2.2" />
<line x1="1295.1" y1="63.8" x2="1346.7" y2="63.8" stroke="#cf5757" stroke-width="2.2" />
<text x="1354" y="43" font-size="20.5" textLength="170" lengthAdjust="spacingAndGlyphs" fill="#111">Hydrolytic colloid</text>
<text x="1354" y="70.3" font-size="20.5" textLength="214" lengthAdjust="spacingAndGlyphs" fill="#111">Sonochemical colloid</text>
</svg>
</body></html>
